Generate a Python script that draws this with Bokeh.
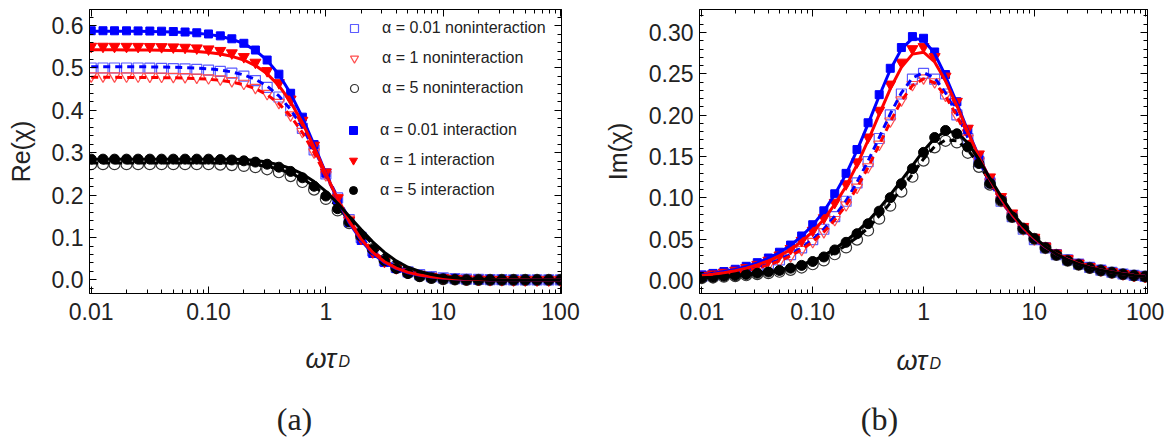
from bokeh.plotting import figure
from bokeh.layouts import row, column
from bokeh.models import (Range1d, LogAxis, LinearAxis, LogTicker, SingleIntervalTicker,
                          PrintfTickFormatter, CustomJSTickFormatter, Legend, LegendItem)
from bokeh.core.properties import value
from bokeh.embed import file_html
from bokeh.resources import INLINE

# frequency grid (omega * tau_D), ten points per decade
omega_tau = [0.01, 0.0126, 0.0158, 0.02, 0.0251, 0.0316, 0.0398, 0.0501, 0.0631, 0.0794,
             0.1, 0.126, 0.158, 0.2, 0.251, 0.316, 0.398, 0.501, 0.631, 0.794,
             1.0, 1.26, 1.58, 2.0, 2.51, 3.16, 3.98, 5.01, 6.31, 7.94,
             10.0, 12.6, 15.8, 20.0, 25.1, 31.6, 39.8, 50.1, 63.1, 79.4, 100.0]

x_ticks_text = ["0.01", "0.10", "1", "10", "100"]

# ---------------- Re(chi) ----------------
# simulation, no interaction
re_a001_non = [0.5000, 0.5000, 0.5000, 0.5000, 0.5000, 0.4995, 0.4992, 0.4987, 0.4980, 0.4969,
               0.4950, 0.4922, 0.4878, 0.4809, 0.4703, 0.4545, 0.4316, 0.3996, 0.3576, 0.3066,
               0.2500, 0.1934, 0.1424, 0.1004, 0.0684, 0.0455, 0.0297, 0.0191, 0.0123, 0.0078,
               0.0050, 0.0031, 0.0020, 0.0013, 0.0008, 0.0005, 0.0003, 0.0002, 0.0001, 0.0001, 0.0000]
re_a1_non = [0.4810, 0.4810, 0.4810, 0.4808, 0.4807, 0.4805, 0.4803, 0.4799, 0.4792, 0.4782,
             0.4765, 0.4739, 0.4699, 0.4636, 0.4540, 0.4396, 0.4186, 0.3891, 0.3499, 0.3018,
             0.2478, 0.1931, 0.1430, 0.1013, 0.0693, 0.0462, 0.0302, 0.0195, 0.0125, 0.0080,
             0.0051, 0.0032, 0.0020, 0.0013, 0.0008, 0.0005, 0.0003, 0.0002, 0.0001, 0.0001, 0.0001]
re_a5_non = [0.273, 0.273, 0.273, 0.273, 0.273, 0.273, 0.273, 0.273, 0.273, 0.273,
             0.273, 0.272, 0.271, 0.269, 0.266, 0.261, 0.254, 0.245, 0.231, 0.213,
             0.191, 0.164, 0.134, 0.103, 0.073, 0.047, 0.029, 0.017, 0.009, 0.005,
             0.002, 0.001, 0.000, 0.000, 0.000, 0.000, 0.000, 0.000, 0.000, 0.000, 0.000]
# simulation, with interaction
re_a001_int = [0.5879, 0.5879, 0.5878, 0.5877, 0.5875, 0.5872, 0.5868, 0.5860, 0.5849, 0.5831,
               0.5803, 0.5758, 0.5689, 0.5583, 0.5424, 0.5188, 0.4854, 0.4404, 0.3840, 0.3193,
               0.2519, 0.1888, 0.1351, 0.0932, 0.0624, 0.0410, 0.0266, 0.0170, 0.0109, 0.0069,
               0.0044, 0.0028, 0.0017, 0.0011, 0.0007, 0.0004, 0.0003, 0.0002, 0.0001, 0.0001, 0.0000]
re_a1_int = [0.5509, 0.5509, 0.5508, 0.5507, 0.5506, 0.5504, 0.5500, 0.5494, 0.5485, 0.5470,
             0.5446, 0.5410, 0.5353, 0.5265, 0.5132, 0.4934, 0.4650, 0.4262, 0.3763, 0.3174,
             0.2543, 0.1934, 0.1402, 0.0976, 0.0659, 0.0435, 0.0283, 0.0182, 0.0116, 0.0074,
             0.0047, 0.0030, 0.0019, 0.0012, 0.0007, 0.0005, 0.0003, 0.0002, 0.0001, 0.0001, 0.0000]
re_a5_int = [0.285, 0.285, 0.285, 0.285, 0.285, 0.285, 0.285, 0.285, 0.285, 0.285,
             0.285, 0.284, 0.283, 0.281, 0.278, 0.273, 0.266, 0.256, 0.241, 0.221,
             0.198, 0.168, 0.137, 0.104, 0.072, 0.045, 0.027, 0.015, 0.008, 0.004,
             0.002, 0.001, 0.000, 0.000, 0.000, 0.000, 0.000, 0.000, 0.000, 0.000, 0.000]
# theory curves (dashed: no interaction, solid: interaction)
re_a001_non_th = [0.5030, 0.5030, 0.5030, 0.5030, 0.5030, 0.5025, 0.5022, 0.5017, 0.5010, 0.4999,
                  0.4980, 0.4952, 0.4907, 0.4837, 0.4731, 0.4573, 0.4342, 0.4020, 0.3598, 0.3084,
                  0.2515, 0.1946, 0.1432, 0.1010, 0.0688, 0.0457, 0.0299, 0.0193, 0.0123, 0.0078,
                  0.0050, 0.0032, 0.0020, 0.0013, 0.0008, 0.0005, 0.0003, 0.0002, 0.0001, 0.0001, 0.0001]
re_a1_non_th = [0.4780, 0.4780, 0.4780, 0.4778, 0.4777, 0.4775, 0.4773, 0.4769, 0.4762, 0.4752,
                0.4735, 0.4709, 0.4670, 0.4607, 0.4512, 0.4369, 0.4160, 0.3867, 0.3477, 0.2999,
                0.2463, 0.1919, 0.1421, 0.1007, 0.0689, 0.0459, 0.0300, 0.0194, 0.0124, 0.0080,
                0.0051, 0.0032, 0.0020, 0.0013, 0.0008, 0.0005, 0.0003, 0.0002, 0.0001, 0.0001, 0.0001]
re_a5_non_th = [0.276, 0.276, 0.276, 0.276, 0.276, 0.276, 0.276, 0.276, 0.276, 0.276,
                0.276, 0.276, 0.276, 0.275, 0.272, 0.268, 0.261, 0.252, 0.239, 0.221,
                0.199, 0.172, 0.142, 0.112, 0.084, 0.060, 0.041, 0.027, 0.017, 0.011,
                0.007, 0.004, 0.002, 0.001, 0.000, 0.000, 0.000, 0.000, 0.000, 0.000, 0.000]
re_a001_int_th = [0.5869, 0.5869, 0.5868, 0.5867, 0.5865, 0.5862, 0.5858, 0.5850, 0.5839, 0.5821,
                  0.5793, 0.5748, 0.5679, 0.5574, 0.5415, 0.5179, 0.4846, 0.4397, 0.3833, 0.3188,
                  0.2515, 0.1885, 0.1349, 0.0930, 0.0623, 0.0409, 0.0266, 0.0170, 0.0109, 0.0069,
                  0.0044, 0.0028, 0.0017, 0.0011, 0.0007, 0.0004, 0.0003, 0.0002, 0.0001, 0.0001, 0.0000]
re_a1_int_th = [0.5429, 0.5429, 0.5428, 0.5427, 0.5426, 0.5424, 0.5420, 0.5414, 0.5405, 0.5391,
                0.5367, 0.5332, 0.5275, 0.5189, 0.5058, 0.4862, 0.4583, 0.4200, 0.3708, 0.3128,
                0.2506, 0.1906, 0.1382, 0.0962, 0.0649, 0.0429, 0.0279, 0.0179, 0.0114, 0.0073,
                0.0046, 0.0030, 0.0019, 0.0012, 0.0007, 0.0005, 0.0003, 0.0002, 0.0001, 0.0001, 0.0000]
re_a5_int_th = [0.285, 0.285, 0.285, 0.285, 0.285, 0.285, 0.285, 0.285, 0.285, 0.285,
                0.285, 0.285, 0.285, 0.284, 0.282, 0.278, 0.272, 0.263, 0.250, 0.232,
                0.209, 0.181, 0.150, 0.119, 0.090, 0.065, 0.045, 0.030, 0.020, 0.013,
                0.008, 0.005, 0.003, 0.002, 0.001, 0.000, 0.000, 0.000, 0.000, 0.000, 0.000]

# ---------------- Im(chi) ----------------
im_a001_non = [0.0050, 0.0063, 0.0079, 0.0100, 0.0126, 0.0158, 0.0199, 0.0250, 0.0314, 0.0395,
               0.0495, 0.0620, 0.0773, 0.0959, 0.1181, 0.1437, 0.1718, 0.2003, 0.2256, 0.2435,
               0.2505, 0.2435, 0.2256, 0.2003, 0.1718, 0.1437, 0.1181, 0.0959, 0.0773, 0.0620,
               0.0495, 0.0395, 0.0314, 0.0250, 0.0199, 0.0158, 0.0126, 0.0100, 0.0079, 0.0063, 0.0050]
im_a1_non = [0.0048, 0.0060, 0.0075, 0.0095, 0.0119, 0.0150, 0.0189, 0.0238, 0.0299, 0.0375,
             0.0471, 0.0590, 0.0736, 0.0914, 0.1127, 0.1374, 0.1647, 0.1927, 0.2182, 0.2369,
             0.2449, 0.2402, 0.2240, 0.1998, 0.1721, 0.1444, 0.1189, 0.0967, 0.0780, 0.0625,
             0.0500, 0.0399, 0.0317, 0.0252, 0.0201, 0.0160, 0.0127, 0.0101, 0.0080, 0.0064, 0.0051]
im_a5_non = [0.0030, 0.0036, 0.0046, 0.0053, 0.0064, 0.0077, 0.0089, 0.0106, 0.0129, 0.0157,
             0.0197, 0.0243, 0.0318, 0.0400, 0.0495, 0.0605, 0.0748, 0.0905, 0.1075, 0.1255,
             0.1450, 0.1610, 0.1690, 0.1670, 0.1545, 0.1375, 0.1160, 0.0965, 0.0770, 0.0628,
             0.0505, 0.0395, 0.0310, 0.0240, 0.0192, 0.0152, 0.0122, 0.0096, 0.0076, 0.0060, 0.0048]
im_a001_int = [0.0068, 0.0086, 0.0108, 0.0136, 0.0172, 0.0216, 0.0272, 0.0342, 0.0429, 0.0539,
               0.0675, 0.0843, 0.1049, 0.1296, 0.1584, 0.1908, 0.2248, 0.2567, 0.2818, 0.2950,
               0.2930, 0.2764, 0.2491, 0.2162, 0.1824, 0.1508, 0.1230, 0.0993, 0.0798, 0.0638,
               0.0509, 0.0405, 0.0322, 0.0256, 0.0204, 0.0162, 0.0129, 0.0102, 0.0081, 0.0065, 0.0051]
im_a1_int = [0.0061, 0.0077, 0.0097, 0.0122, 0.0154, 0.0193, 0.0243, 0.0306, 0.0385, 0.0483,
             0.0605, 0.0757, 0.0943, 0.1168, 0.1433, 0.1734, 0.2057, 0.2374, 0.2639, 0.2802,
             0.2827, 0.2706, 0.2470, 0.2165, 0.1840, 0.1529, 0.1251, 0.1013, 0.0815, 0.0652,
             0.0521, 0.0415, 0.0330, 0.0263, 0.0209, 0.0166, 0.0132, 0.0105, 0.0083, 0.0066, 0.0052]
im_a5_int = [0.0033, 0.0040, 0.0052, 0.0060, 0.0073, 0.0088, 0.0102, 0.0122, 0.0149, 0.0183,
             0.0230, 0.0285, 0.0370, 0.0462, 0.0566, 0.0687, 0.0839, 0.1002, 0.1171, 0.1353,
             0.1550, 0.1730, 0.1815, 0.1775, 0.1615, 0.1415, 0.1175, 0.0970, 0.0770, 0.0628,
             0.0505, 0.0395, 0.0310, 0.0240, 0.0192, 0.0152, 0.0122, 0.0096, 0.0076, 0.0060, 0.0048]
im_a001_non_th = [0.0050, 0.0063, 0.0080, 0.0100, 0.0126, 0.0159, 0.0200, 0.0251, 0.0316, 0.0397,
                  0.0498, 0.0623, 0.0778, 0.0965, 0.1188, 0.1446, 0.1729, 0.2015, 0.2270, 0.2450,
                  0.2515, 0.2450, 0.2270, 0.2015, 0.1729, 0.1446, 0.1188, 0.0965, 0.0778, 0.0623,
                  0.0498, 0.0397, 0.0316, 0.0251, 0.0200, 0.0159, 0.0126, 0.0100, 0.0080, 0.0063, 0.0050]
im_a1_non_th = [0.0048, 0.0060, 0.0075, 0.0095, 0.0119, 0.0150, 0.0188, 0.0237, 0.0298, 0.0374,
                0.0469, 0.0587, 0.0733, 0.0910, 0.1122, 0.1368, 0.1640, 0.1919, 0.2173, 0.2359,
                0.2439, 0.2392, 0.2231, 0.1990, 0.1714, 0.1438, 0.1184, 0.0963, 0.0777, 0.0623,
                0.0498, 0.0397, 0.0316, 0.0251, 0.0200, 0.0159, 0.0126, 0.0100, 0.0080, 0.0063, 0.0050]
im_a5_non_th = [0.0031, 0.0038, 0.0048, 0.0056, 0.0068, 0.0082, 0.0095, 0.0114, 0.0139, 0.0170,
                0.0213, 0.0263, 0.0340, 0.0425, 0.0522, 0.0635, 0.0780, 0.0938, 0.1108, 0.1285,
                0.1470, 0.1620, 0.1700, 0.1690, 0.1580, 0.1410, 0.1195, 0.0995, 0.0795, 0.0645,
                0.0515, 0.0402, 0.0315, 0.0245, 0.0195, 0.0155, 0.0124, 0.0098, 0.0078, 0.0061, 0.0049]
im_a001_int_th = [0.0068, 0.0085, 0.0108, 0.0135, 0.0170, 0.0214, 0.0270, 0.0339, 0.0426, 0.0535,
                  0.0670, 0.0837, 0.1041, 0.1287, 0.1573, 0.1895, 0.2232, 0.2549, 0.2799, 0.2929,
                  0.2910, 0.2745, 0.2474, 0.2147, 0.1812, 0.1498, 0.1221, 0.0986, 0.0792, 0.0633,
                  0.0505, 0.0403, 0.0320, 0.0255, 0.0202, 0.0161, 0.0128, 0.0102, 0.0081, 0.0064, 0.0051]
im_a1_int_th = [0.0060, 0.0075, 0.0095, 0.0119, 0.0150, 0.0189, 0.0238, 0.0299, 0.0376, 0.0472,
                0.0591, 0.0740, 0.0921, 0.1141, 0.1400, 0.1694, 0.2010, 0.2319, 0.2578, 0.2738,
                0.2762, 0.2644, 0.2413, 0.2115, 0.1798, 0.1494, 0.1222, 0.0990, 0.0796, 0.0637,
                0.0509, 0.0405, 0.0322, 0.0257, 0.0204, 0.0162, 0.0129, 0.0103, 0.0081, 0.0065, 0.0051]
im_a5_int_th = [0.0033, 0.0041, 0.0052, 0.0062, 0.0075, 0.0090, 0.0106, 0.0128, 0.0157, 0.0193,
                0.0242, 0.0302, 0.0385, 0.0480, 0.0590, 0.0718, 0.0870, 0.1035, 0.1210, 0.1390,
                0.1570, 0.1720, 0.1805, 0.1790, 0.1665, 0.1465, 0.1235, 0.1020, 0.0820, 0.0660,
                0.0525, 0.0410, 0.0320, 0.0250, 0.0198, 0.0157, 0.0125, 0.0099, 0.0079, 0.0062, 0.0050]

BLUE, RED, BLACK = "#0000ff", "#ff0000", "#000000"
BLUE_OPEN, RED_OPEN, BLACK_OPEN = "#5c5cff", "#ff4d4d", "#333333"
SANS = "Liberation Sans"
INK = "#222222"

TICK_JS = """
const labels = %s;
const k = Math.round(Math.log10(tick)) + 2;
return (k >= 0 && k < labels.length) ? labels[k] : "";
""" % str(x_ticks_text)


def style_axes(p, y_interval, y_format, y_label):
    top = LogAxis(ticker=LogTicker(num_minor_ticks=10))
    right = LinearAxis(ticker=SingleIntervalTicker(interval=y_interval, num_minor_ticks=5))
    p.add_layout(top, "above")
    p.add_layout(right, "right")
    p.below[0].ticker = LogTicker(num_minor_ticks=10)
    p.below[0].formatter = CustomJSTickFormatter(code=TICK_JS)
    p.left[0].ticker = SingleIntervalTicker(interval=y_interval, num_minor_ticks=5)
    p.left[0].formatter = PrintfTickFormatter(format=y_format)
    for ax in [p.below[0], p.left[0], top, right]:
        ax.major_tick_in = 7
        ax.major_tick_out = 0
        ax.minor_tick_in = 4
        ax.minor_tick_out = 0
        ax.axis_line_color = "black"
        ax.major_tick_line_color = "black"
        ax.minor_tick_line_color = "black"
        ax.major_label_text_font = SANS
        ax.major_label_text_font_size = "23px"
        ax.major_label_text_color = INK
    # mirrored frame axes: ticks only, labels invisible and tiny
    for ax in (top, right):
        ax.major_label_text_font_size = "1px"
        ax.major_label_text_alpha = 0
        ax.major_label_standoff = 0
    p.below[0].major_label_standoff = 9
    p.left[0].major_label_standoff = 6
    p.left[0].axis_label = y_label
    p.left[0].axis_label_text_font = SANS
    p.left[0].axis_label_text_font_style = "normal"
    p.left[0].axis_label_text_font_size = "25px"
    p.left[0].axis_label_text_color = INK
    p.left[0].axis_label_standoff = 14
    p.outline_line_color = "black"
    p.xgrid.visible = False
    p.ygrid.visible = False


def draw_series(p, non, non_th, inter, inter_th):
    opens = []
    for ys, marker, color, size in zip(non, ["square", "inverted_triangle", "circle"],
                                       [BLUE_OPEN, RED_OPEN, BLACK_OPEN], [10, 11, 11]):
        opens.append(p.scatter(omega_tau, ys, marker=marker, size=size, fill_color=None,
                               line_color=color, line_width=1.2))
    for ys, color in zip(non_th, [BLUE, RED, BLACK]):
        p.line(omega_tau, ys, line_color=color, line_width=3, line_dash="7 5")
    fills = []
    for ys, marker, color, size in zip(inter, ["square", "inverted_triangle", "circle"],
                                       [BLUE, RED, BLACK], [8, 11, 10]):
        fills.append(p.scatter(omega_tau, ys, marker=marker, size=size, fill_color=color,
                               line_color=color, line_width=1))
    for ys, color in zip(inter_th, [BLUE, RED, BLACK]):
        p.line(omega_tau, ys, line_color=color, line_width=3)
    return opens, fills


# ---- panel (a): real part ----
pa = figure(width=600, height=340, x_axis_type="log", output_backend="svg", toolbar_location=None,
            x_range=Range1d(0.00967, 102.0), y_range=Range1d(-0.032, 0.638),
            min_border_left=89, min_border_right=39, min_border_top=5, min_border_bottom=43)
style_axes(pa, 0.1, "%.1f", "Re(χ)")
opens_a, fills_a = draw_series(pa, [re_a001_non, re_a1_non, re_a5_non],
                               [re_a001_non_th, re_a1_non_th, re_a5_non_th],
                               [re_a001_int, re_a1_int, re_a5_int],
                               [re_a001_int_th, re_a1_int_th, re_a5_int_th])

legend_names = ["α = 0.01", "α = 1", "α = 5"]
leg_non = Legend(items=[LegendItem(label=n + " noninteraction", renderers=[r])
                        for n, r in zip(legend_names, opens_a)],
                 location=(255, 195))
leg_int = Legend(items=[LegendItem(label=n + " interaction", renderers=[r])
                        for n, r in zip(legend_names, fills_a)],
                 location=(254, 93))
for leg, standoff in ((leg_non, 18), (leg_int, 17)):
    leg.padding = 0
    leg.margin = 0
    leg.spacing = 10
    leg.glyph_width = 20
    leg.glyph_height = 20
    leg.label_height = 20
    leg.label_standoff = standoff
    leg.label_text_font = SANS
    leg.label_text_font_size = "16px"
    leg.label_text_color = INK
    leg.border_line_color = None
    leg.background_fill_alpha = 0
    pa.add_layout(leg)

# ---- panel (b): imaginary part ----
pb = figure(width=572, height=340, x_axis_type="log", output_backend="svg", toolbar_location=None,
            x_range=Range1d(0.00951, 105.0), y_range=Range1d(-0.0157, 0.3278),
            min_border_left=88, min_border_right=25, min_border_top=9, min_border_bottom=47)
style_axes(pb, 0.05, "%.2f", "Im(χ)")
draw_series(pb, [im_a001_non, im_a1_non, im_a5_non],
            [im_a001_non_th, im_a1_non_th, im_a5_non_th],
            [im_a001_int, im_a1_int, im_a5_int],
            [im_a001_int_th, im_a1_int_th, im_a5_int_th])

# ---- caption strip: x-axis titles and panel tags ----
cap = figure(width=1172, height=100, output_backend="svg", toolbar_location=None,
             x_axis_type=None, y_axis_type=None,
             x_range=Range1d(0, 1172), y_range=Range1d(440, 340),
             min_border_left=0, min_border_right=0, min_border_top=0, min_border_bottom=0)
cap.outline_line_color = None
cap.xgrid.visible = False
cap.ygrid.visible = False
cap.text(x=[305, 896], y=[358, 360], text=["ωτ", "ωτ"], text_font=value(SANS),
         text_font_style="italic", text_font_size=value("27px"), text_color=INK,
         text_baseline="alphabetic", text_align="left")
cap.text(x=[338, 929], y=[361, 363], text=["D", "D"], text_font=value(SANS),
         text_font_style="italic", text_font_size=value("16px"), text_color=INK,
         text_baseline="alphabetic", text_align="left")
cap.text(x=[294, 879], y=[418, 418], text=["(a)", "(b)"], text_font=value("Liberation Serif"),
         text_font_size=value("32px"), text_color=INK,
         text_baseline="alphabetic", text_align="center")

layout = column(row(pa, pb, spacing=0), cap, spacing=0)
open("out.html", "w").write(file_html(layout, INLINE))
